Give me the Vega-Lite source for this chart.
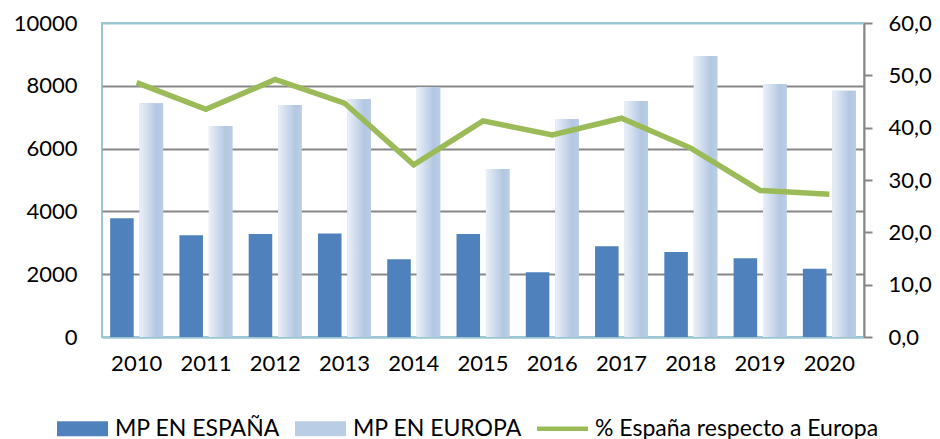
{
  "$schema": "https://vega.github.io/schema/vega-lite/v6.json",
  "width": 762,
  "height": 314,
  "autosize": "none",
  "padding": {"left": 102, "top": 23, "right": 76, "bottom": 102},
  "background": "white",
  "config": {
    "font": "Lato",
    "view": {"stroke": "#9DC6D3", "strokeWidth": 2},
    "axis": {"labelFont": "Lato", "labelColor": "#000000", "labelFontSize": 22, "title": null}
  },
  "datasets": {
    "bars": [
      {"year": "2010", "serie": "MP EN ESPAÑA", "value": 3780},
      {"year": "2011", "serie": "MP EN ESPAÑA", "value": 3240},
      {"year": "2012", "serie": "MP EN ESPAÑA", "value": 3280},
      {"year": "2013", "serie": "MP EN ESPAÑA", "value": 3300},
      {"year": "2014", "serie": "MP EN ESPAÑA", "value": 2475},
      {"year": "2015", "serie": "MP EN ESPAÑA", "value": 3280},
      {"year": "2016", "serie": "MP EN ESPAÑA", "value": 2060},
      {"year": "2017", "serie": "MP EN ESPAÑA", "value": 2890},
      {"year": "2018", "serie": "MP EN ESPAÑA", "value": 2710},
      {"year": "2019", "serie": "MP EN ESPAÑA", "value": 2505},
      {"year": "2020", "serie": "MP EN ESPAÑA", "value": 2175},
      {"year": "2010", "serie": "MP EN EUROPA", "value": 7445},
      {"year": "2011", "serie": "MP EN EUROPA", "value": 6720},
      {"year": "2012", "serie": "MP EN EUROPA", "value": 7390},
      {"year": "2013", "serie": "MP EN EUROPA", "value": 7580},
      {"year": "2014", "serie": "MP EN EUROPA", "value": 7950},
      {"year": "2015", "serie": "MP EN EUROPA", "value": 5350},
      {"year": "2016", "serie": "MP EN EUROPA", "value": 6945},
      {"year": "2017", "serie": "MP EN EUROPA", "value": 7515},
      {"year": "2018", "serie": "MP EN EUROPA", "value": 8950},
      {"year": "2019", "serie": "MP EN EUROPA", "value": 8055},
      {"year": "2020", "serie": "MP EN EUROPA", "value": 7845}
    ],
    "pct": [
      {"year": "2010", "serie": "% España respecto a Europa", "pct": 48.6},
      {"year": "2011", "serie": "% España respecto a Europa", "pct": 43.5},
      {"year": "2012", "serie": "% España respecto a Europa", "pct": 49.2},
      {"year": "2013", "serie": "% España respecto a Europa", "pct": 44.7},
      {"year": "2014", "serie": "% España respecto a Europa", "pct": 32.9},
      {"year": "2015", "serie": "% España respecto a Europa", "pct": 41.3},
      {"year": "2016", "serie": "% España respecto a Europa", "pct": 38.6},
      {"year": "2017", "serie": "% España respecto a Europa", "pct": 41.8},
      {"year": "2018", "serie": "% España respecto a Europa", "pct": 36.1},
      {"year": "2019", "serie": "% España respecto a Europa", "pct": 28.0},
      {"year": "2020", "serie": "% España respecto a Europa", "pct": 27.3}
    ]
  },
  "encoding": {
    "x": {
      "field": "year",
      "type": "nominal",
      "sort": null,
      "scale": {"paddingInner": 0.235, "paddingOuter": 0.1175},
      "axis": {
        "title": null,
        "labelAngle": 0,
        "ticks": false,
        "domainColor": "#9DC6D3",
        "domainWidth": 2,
        "labelPadding": 16,
        "labelFontSize": 22
      }
    }
  },
  "layer": [
    {
      "data": {"name": "bars"},
      "layer": [
        {
          "mark": {"type": "bar"},
          "encoding": {
            "xOffset": {
              "field": "serie",
              "type": "nominal",
              "sort": ["MP EN ESPAÑA", "MP EN EUROPA"],
              "scale": {"paddingInner": 0.2, "paddingOuter": 0}
            },
            "y": {
              "field": "value",
              "type": "quantitative",
              "scale": {"domain": [0, 10000], "nice": false},
              "axis": {
                "title": null,
                "values": [0, 2000, 4000, 6000, 8000, 10000],
                "format": "d",
                "grid": true,
                "gridColor": {
                  "condition": {"test": "datum.value === 0 || datum.value === 10000", "value": "#9DC6D3"},
                  "value": "#878787"
                },
                "gridWidth": 2,
                "domain": false,
                "ticks": false,
                "tickSize": 0,
                "labelPadding": 25,
                "labelFontSize": 22
              }
            },
            "color": {
              "field": "serie",
              "type": "nominal",
              "scale": {
                "domain": ["MP EN ESPAÑA", "MP EN EUROPA", "% España respecto a Europa"],
                "range": ["#4F81BD", "#B9CDE5", "#9BBB59"]
              },
              "legend": {
                "title": null,
                "orient": "none",
                "direction": "horizontal",
                "columns": 3,
                "legendX": -45,
                "legendY": 380,
                "padding": 0,
                "labelFontSize": 23,
                "labelFont": "Lato",
                "labelColor": "#000000",
                "labelLimit": 500,
                "labelOffset": 7,
                "columnPadding": 15,
                "symbolSize": 2601,
                "symbolStrokeWidth": 0,
                "symbolOpacity": 1,
                "symbolType": "M-1,-0.29H1V0.29H-1Z",
                "encode": {
                  "symbols": {
                    "update": {
                      "shape": [
                        {"test": "datum.label === '% España respecto a Europa'", "value": "M-1,-0.09H1V0.09H-1Z"},
                        {"value": "M-1,-0.29H1V0.29H-1Z"}
                      ],
                      "fill": [
                        {"test": "datum.label === 'MP EN EUROPA'", "value": {"gradient": "linear", "x1": 0, "y1": 0, "x2": 1, "y2": 0, "stops": [{"offset": 0, "color": "#EEF2F9"}, {"offset": 0.75, "color": "#B4C8E3"}, {"offset": 1, "color": "#BCCFE7"}]}},
                        {"scale": "color", "field": "value"}
                      ],
                      "strokeWidth": {"value": 0}
                    }
                  }
                }
              }
            }
          }
        },
        {
          "transform": [{"filter": "datum.serie === 'MP EN EUROPA'"}],
          "mark": {
            "type": "bar",
            "fill": {"gradient": "linear", "x1": 0, "y1": 0, "x2": 1, "y2": 0, "stops": [{"offset": 0, "color": "#EBF0F8"}, {"offset": 0.72, "color": "#B3C7E2"}, {"offset": 1, "color": "#BBCEE6"}]}
          },
          "encoding": {
            "xOffset": {
              "field": "serie",
              "type": "nominal",
              "sort": ["MP EN ESPAÑA", "MP EN EUROPA"],
              "scale": {"domain": ["MP EN ESPAÑA", "MP EN EUROPA"], "paddingInner": 0.2, "paddingOuter": 0}
            },
            "y": {
              "field": "value",
              "type": "quantitative",
              "scale": {"domain": [0, 10000], "nice": false}
            }
          }
        }
      ]
    },
    {
      "data": {"name": "pct"},
      "mark": {"type": "line", "strokeWidth": 5.5, "strokeJoin": "miter", "strokeCap": "butt"},
      "encoding": {
        "y": {
          "field": "pct",
          "type": "quantitative",
          "scale": {"domain": [0, 60], "nice": false},
          "axis": {
            "orient": "right",
            "title": null,
            "values": [0, 10, 20, 30, 40, 50, 60],
            "labelExpr": "replace(format(datum.value, '.1f'), '.', ',')",
            "grid": false,
            "domain": true,
            "domainColor": "#878787",
            "domainWidth": 2,
            "ticks": true,
            "tickSize": 8,
            "tickColor": "#878787",
            "tickWidth": 2,
            "labelPadding": 16,
            "labelFontSize": 22
          }
        },
        "color": {"field": "serie", "type": "nominal"}
      }
    }
  ],
  "resolve": {"scale": {"y": "independent"}}
}
